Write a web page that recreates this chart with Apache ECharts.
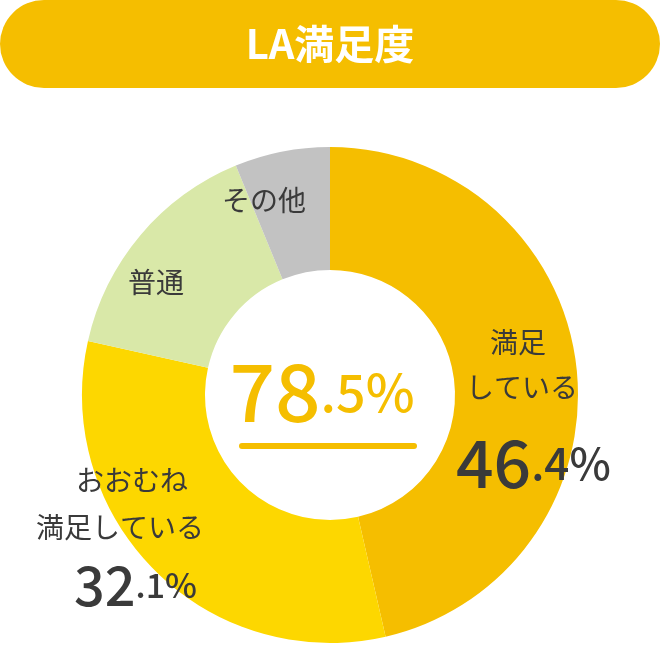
<!DOCTYPE html>
<html><head><meta charset="utf-8">
<script src="https://cdn.jsdelivr.net/npm/echarts@6/dist/echarts.min.js"></script>
<style>html,body{margin:0;padding:0;background:#fff}#c{width:660px;height:670px}</style>
</head><body><div id="c"></div>
<script>
var categories = ['満足している', 'おおむね満足している', '普通', 'その他']
var values = [46.4, 32.1, 15.3, 6.2]
var colors = ['#F5BE00', '#FDD700', '#D9E8A8', '#C2C2C2']
var title = 'LA満足度'
var total = '78.5'

var chart = echarts.init(document.getElementById('c'))
var font = '"Noto Sans CJK JP", "Noto Sans", sans-serif'
var dark = '#3a3a3a'

function txt(x, y, s, size) {
  return {type: 'text', z: 100, x: x, y: y, style: {text: s, fontSize: size || 28, fill: dark, fontFamily: font}}
}
function num(x, y, s, big, small) {
  var p = s.split('.')
  return {type: 'text', z: 100, x: x, y: y, style: {text: '{b|' + p[0] + '}{s|.' + p[1] + '%}', rich: {
    b: {fontSize: big, fill: dark, fontFamily: font, fontWeight: 500},
    s: {fontSize: small, fill: dark, fontFamily: font, fontWeight: 500}}}}
}

chart.setOption({
  series: [{
    type: 'pie',
    center: [330, 395],
    radius: [125, 248],
    startAngle: 90,
    clockwise: true,
    label: {show: false},
    labelLine: {show: false},
    silent: true,
    data: categories.map(function(c, i) {
      return {name: c, value: values[i], itemStyle: {color: colors[i]}}
    })
  }],
  graphic: [
    {type: 'rect', z: 100, shape: {x: 0, y: 0, width: 660, height: 88, r: 44}, style: {fill: '#F5BE00'}},
    {type: 'text', z: 101, x: 330, y: 44, style: {text: title, fill: '#fff', fontSize: 40, fontWeight: 'bold',
      fontFamily: font, align: 'center', verticalAlign: 'middle'}},
    {type: 'text', z: 100, x: 322, y: 392, style: {
      text: '{a|' + total.split('.')[0] + '}{b|.' + total.split('.')[1] + '%}',
      align: 'center', verticalAlign: 'middle',
      rich: {a: {fontSize: 80, fill: '#F5BE00', fontFamily: font, fontWeight: 500},
        b: {fontSize: 52, fill: '#F5BE00', fontFamily: font, fontWeight: 500}}}},
    {type: 'line', z: 100, shape: {x1: 242, y1: 446, x2: 414, y2: 446}, style: {stroke: '#F5BE00', lineWidth: 6, lineCap: 'round'}},
    txt(490, 328, '満足'),
    txt(466, 373, 'している'),
    num(456, 430, '46.4', 66, 44),
    txt(76, 466, 'おおむね'),
    txt(36, 513, '満足している'),
    num(74, 558, '32.1', 54, 34),
    txt(128, 268, '普通'),
    txt(222, 186, 'その他')
  ]
})
</script></body></html>
